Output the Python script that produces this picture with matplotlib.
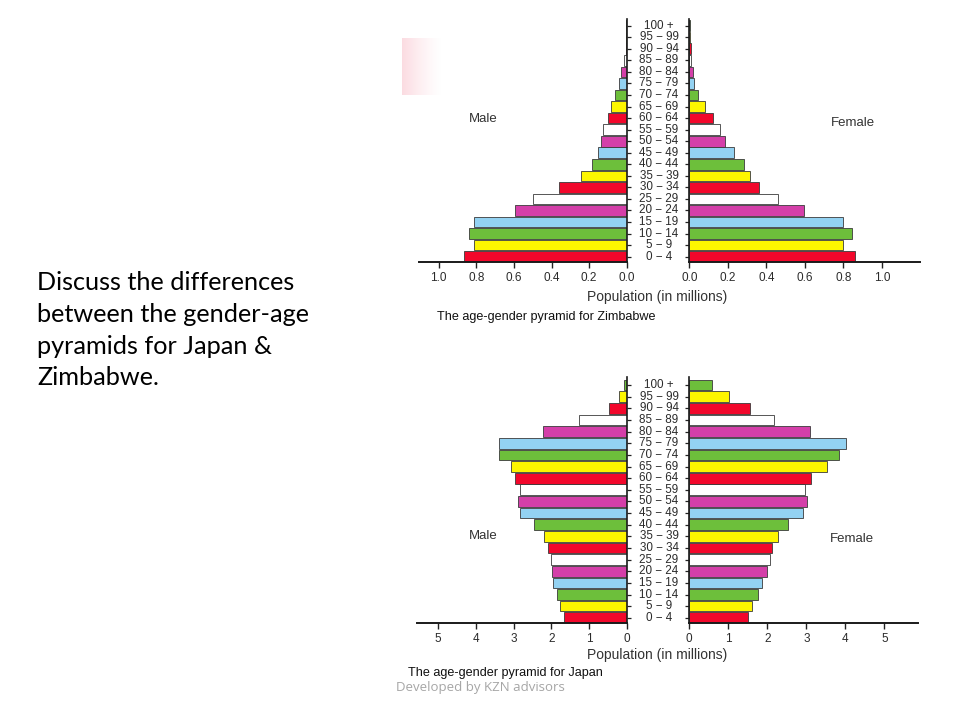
import numpy as np
import matplotlib
matplotlib.use("Agg")
import matplotlib.pyplot as plt
from matplotlib.transforms import blended_transform_factory

# ---------------- data ----------------
age_groups = ['0 − 4', '5 − 9', '10 − 14', '15 − 19', '20 − 24', '25 − 29', '30 − 34',
              '35 − 39', '40 − 44', '45 − 49', '50 − 54', '55 − 59', '60 − 64', '65 − 69',
              '70 − 74', '75 − 79', '80 − 84', '85 − 89', '90 − 94', '95 − 99', '100 +']

zim_male = [0.865, 0.81, 0.84, 0.81, 0.594, 0.497, 0.36, 0.244, 0.186, 0.152, 0.136,
            0.124, 0.097, 0.081, 0.062, 0.042, 0.028, 0.014, 0.006, 0.003, 0.002]
zim_female = [0.86, 0.797, 0.843, 0.80, 0.596, 0.462, 0.362, 0.315, 0.286, 0.234, 0.184,
              0.159, 0.125, 0.08, 0.043, 0.026, 0.019, 0.01, 0.007, 0.005, 0.003]

jp_male = [1.67, 1.76, 1.86, 1.95, 1.97, 2.0, 2.08, 2.20, 2.46, 2.83, 2.89,
           2.84, 2.96, 3.08, 3.40, 3.40, 2.23, 1.27, 0.46, 0.21, 0.07]
jp_female = [1.50, 1.62, 1.76, 1.86, 2.0, 2.06, 2.13, 2.27, 2.52, 2.91, 3.01,
             2.97, 3.12, 3.52, 3.83, 4.02, 3.10, 2.18, 1.56, 1.03, 0.58]

zim_ticks = [0.0, 0.2, 0.4, 0.6, 0.8, 1.0]
zim_ticklabels = ['0.0', '0.2', '0.4', '0.6', '0.8', '1.0']
jp_ticks = [0, 1, 2, 3, 4, 5]
jp_ticklabels = ['0', '1', '2', '3', '4', '5']

slide_lines = ['Discuss the differences', 'between the gender-age',
               'pyramids for Japan &', 'Zimbabwe.']

palette = ['#f2072b', '#fdf600', '#6dbf3b', '#93d2f2', '#d43fa9', '#ffffff']

# ---------------- figure ----------------
W, H = 960, 720
fig = plt.figure(figsize=(9.6, 7.2), dpi=100)
fig.patch.set_facecolor('white')

FONT = 'Liberation Sans'
TXT = '#2b2b2b'


def fx(px):
    return px / W


def fy(py):
    return 1 - py / H


def make_axes(left, right, top, bottom):
    return fig.add_axes([fx(left), fy(bottom), fx(right - left), (bottom - top) / H])


# pink decoration at top-left of the upper picture
deco = make_axes(402, 442, 38, 95)
grad = np.ones((10, 100, 4))
grad[..., 0] = 0.985
grad[..., 1] = 0.84
grad[..., 2] = 0.87
alpha = np.linspace(0.9, 0.0, 100) ** 1.3
grad[..., 3] = alpha[None, :]
deco.imshow(grad, aspect='auto', interpolation='bilinear')
deco.axis('off')

colors = [palette[i % 6] for i in range(len(age_groups))]
ypos = np.arange(len(age_groups))


def pyramid(male, female, m_left, m_right, f_left, f_right, top, bottom,
            m_scale, f_scale, ticks, ticklabels, ylims):
    axm = make_axes(m_left, m_right, top, bottom)
    axf = make_axes(f_left, f_right, top, bottom)
    axm.barh(ypos, male, height=0.92, color=colors, edgecolor='#3a3a3a', linewidth=0.6)
    axf.barh(ypos, female, height=0.92, color=colors, edgecolor='#3a3a3a', linewidth=0.6)
    axm.set_xlim((m_right - m_left) / m_scale, 0)
    axf.set_xlim(0, (f_right - f_left) / f_scale)
    for ax in (axm, axf):
        ax.set_ylim(*ylims)
        ax.set_facecolor('none')
        ax.spines['top'].set_visible(False)
        ax.set_xticks(ticks)
        ax.set_xticklabels(ticklabels, fontsize=8.5, family=FONT, color=TXT)
        ax.tick_params(axis='x', direction='out', length=4, width=1, color='#222', pad=3)
        ax.spines['bottom'].set_linewidth(1.4)
        ax.spines['bottom'].set_color('#1a1a1a')
        ax.set_yticks(ypos)
        ax.set_yticklabels([])
    axm.spines['left'].set_visible(False)
    axm.spines['right'].set_linewidth(1.2)
    axm.spines['right'].set_color('#1a1a1a')
    axm.yaxis.tick_right()
    axm.tick_params(axis='y', direction='out', length=3, width=0.9, color='#222')
    axf.spines['right'].set_visible(False)
    axf.spines['left'].set_linewidth(1.2)
    axf.spines['left'].set_color('#1a1a1a')
    axf.tick_params(axis='y', direction='out', length=3, width=0.9, color='#222')
    tr = blended_transform_factory(fig.transFigure, axf.transData)
    xc = fx((m_right + f_left) / 2 + 1)
    for y, lab in zip(ypos, age_groups):
        fig.text(xc, y, lab, transform=tr, ha='center', va='center',
                 fontsize=8.4, family=FONT, color=TXT)
    return axm, axf


# Zimbabwe
pyramid(zim_male, zim_female, 419, 626.7, 689.3, 920, 19, 262,
        188, 192.5, zim_ticks, zim_ticklabels, (-0.46, 20.58))
fig.text(fx(483), fy(119), 'Male', ha='center', va='center', fontsize=9.5,
         family=FONT, color='#333333')
fig.text(fx(853), fy(123), 'Female', ha='center', va='center', fontsize=9.5,
         family=FONT, color='#333333')
fig.text(fx(657), fy(297), 'Population (in millions)', ha='center', va='center',
         fontsize=10, family=FONT, color='#333333')
fig.text(fx(437), fy(317), 'The age-gender pyramid for Zimbabwe', ha='left', va='center',
         fontsize=9.1, family=FONT, color='#111111')

# Japan
pyramid(jp_male, jp_female, 417, 626.7, 689.3, 918, 377, 623,
        37.7, 39, jp_ticks, jp_ticklabels, (-0.45, 20.7))
fig.text(fx(483), fy(536), 'Male', ha='center', va='center', fontsize=9.5,
         family=FONT, color='#333333')
fig.text(fx(852), fy(539), 'Female', ha='center', va='center', fontsize=9.5,
         family=FONT, color='#333333')
fig.text(fx(657), fy(655), 'Population (in millions)', ha='center', va='center',
         fontsize=10, family=FONT, color='#333333')
fig.text(fx(408), fy(673), 'The age-gender pyramid for Japan', ha='left', va='center',
         fontsize=9.1, family=FONT, color='#111111')

# slide text
for line, py in zip(slide_lines, [283, 314.5, 346, 377.5]):
    fig.text(fx(37), fy(py), line, ha='left', va='center', fontsize=18.2,
             family='Lato', color='#000000')
fig.text(fx(480), fy(688), 'Developed by KZN advisors', ha='center', va='center',
         fontsize=9.5, family='Open Sans', color='#a6a6a6')

fig.savefig('out.png', dpi=100, facecolor='white')
